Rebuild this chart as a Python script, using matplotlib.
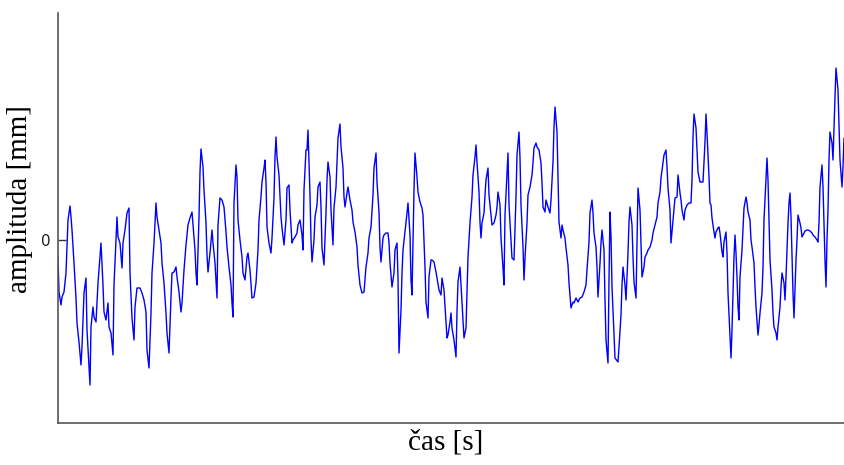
import matplotlib
matplotlib.use("Agg")
import matplotlib.pyplot as plt

# time [s] and amplitude [mm]
t = [
    0.00, 0.01, 0.03, 0.04, 0.06, 0.08, 0.09, 0.10, 0.12, 0.13,
    0.14, 0.16, 0.18, 0.19, 0.21, 0.23, 0.24, 0.26, 0.28, 0.29,
    0.31, 0.32, 0.33, 0.35, 0.36, 0.38, 0.40, 0.42, 0.43, 0.45,
    0.46, 0.48, 0.50, 0.51, 0.53, 0.55, 0.56, 0.58, 0.59, 0.60,
    0.62, 0.64, 0.65, 0.67, 0.69, 0.71, 0.72, 0.74, 0.76, 0.77,
    0.79, 0.82, 0.84, 0.86, 0.88, 0.89, 0.91, 0.93, 0.94, 0.96,
    0.98, 0.99, 1.01, 1.03, 1.04, 1.06, 1.08, 1.09, 1.11, 1.13,
    1.14, 1.16, 1.18, 1.19, 1.21, 1.23, 1.24, 1.26, 1.28, 1.30,
    1.32, 1.34, 1.35, 1.37, 1.38, 1.39, 1.41, 1.42, 1.43, 1.45,
    1.46, 1.48, 1.49, 1.50, 1.52, 1.54, 1.55, 1.57, 1.59, 1.60,
    1.62, 1.64, 1.66, 1.68, 1.69, 1.71, 1.73, 1.74, 1.75, 1.76,
    1.78, 1.79, 1.80, 1.82, 1.84, 1.85, 1.87, 1.89, 1.90, 1.92,
    1.94, 1.96, 1.98, 2.00, 2.01, 2.03, 2.04, 2.06, 2.07, 2.08,
    2.09, 2.11, 2.13, 2.14, 2.16, 2.17, 2.18, 2.19, 2.21, 2.23,
    2.24, 2.26, 2.28, 2.29, 2.31, 2.32, 2.34, 2.35, 2.37, 2.39,
    2.40, 2.42, 2.44, 2.45, 2.46, 2.48, 2.49, 2.50, 2.52, 2.53,
    2.54, 2.56, 2.57, 2.59, 2.60, 2.62, 2.63, 2.64, 2.66, 2.68,
    2.69, 2.70, 2.72, 2.73, 2.75, 2.76, 2.78, 2.79, 2.80, 2.82,
    2.83, 2.85, 2.86, 2.87, 2.89, 2.90, 2.92, 2.94, 2.95, 2.97,
    2.99, 3.00, 3.02, 3.04, 3.06, 3.08, 3.10, 3.11, 3.13, 3.15,
    3.16, 3.18, 3.19, 3.21, 3.22, 3.23, 3.25, 3.26, 3.28, 3.30,
    3.31, 3.32, 3.34, 3.36, 3.37, 3.39, 3.40, 3.41, 3.43, 3.44,
    3.45, 3.47, 3.49, 3.50, 3.52, 3.53, 3.54, 3.56, 3.57, 3.59,
    3.60, 3.62, 3.64, 3.65, 3.67, 3.68, 3.70, 3.71, 3.73, 3.74,
    3.76, 3.78, 3.79, 3.81, 3.83, 3.84, 3.86, 3.88, 3.89, 3.90,
    3.92, 3.93, 3.94, 3.96, 3.98, 3.99, 4.00, 4.02, 4.04, 4.05,
    4.06, 4.08, 4.09, 4.10, 4.12, 4.14, 4.15, 4.17, 4.18, 4.19,
    4.21, 4.22, 4.23, 4.24, 4.26, 4.27, 4.28, 4.30, 4.31, 4.33,
    4.34, 4.36, 4.38, 4.39, 4.40, 4.42, 4.43, 4.45, 4.46, 4.47,
    4.49, 4.50, 4.51, 4.53, 4.54, 4.56, 4.58, 4.59, 4.61, 4.62,
    4.63, 4.65, 4.66, 4.67, 4.69, 4.70, 4.72, 4.74, 4.75, 4.76,
    4.78, 4.79, 4.81, 4.83, 4.84, 4.85, 4.87, 4.88, 4.90, 4.92,
    4.93, 4.95, 4.96, 4.97, 4.99, 5.00, 5.01, 5.03, 5.04, 5.05,
    5.07, 5.08, 5.10, 5.11, 5.13, 5.15, 5.16, 5.18, 5.20, 5.22,
    5.24, 5.26, 5.28, 5.29, 5.31, 5.32, 5.34, 5.35, 5.36, 5.38,
    5.39, 5.40, 5.42, 5.43, 5.44, 5.46, 5.47, 5.48, 5.50, 5.51,
    5.52, 5.53, 5.54, 5.56, 5.57, 5.60, 5.61, 5.63, 5.64, 5.65,
    5.67, 5.68, 5.70, 5.71, 5.72, 5.74, 5.75, 5.76, 5.78, 5.79,
    5.80, 5.82, 5.83, 5.84, 5.86, 5.87, 5.89, 5.90, 5.92, 5.94,
    5.95, 5.97, 5.99, 6.00, 6.02, 6.03, 6.05, 6.06, 6.08, 6.09,
    6.10, 6.12, 6.13, 6.14, 6.16, 6.17, 6.19, 6.20, 6.22, 6.23,
    6.24, 6.26, 6.27, 6.29, 6.31, 6.33, 6.34, 6.35, 6.36, 6.38,
    6.39, 6.40, 6.42, 6.44, 6.45, 6.47, 6.48, 6.49, 6.51, 6.52,
    6.53, 6.54, 6.56, 6.57, 6.58, 6.60, 6.61, 6.62, 6.64, 6.65,
    6.66, 6.68, 6.69, 6.70, 6.72, 6.73, 6.74, 6.75, 6.76, 6.77,
    6.78, 6.79, 6.80, 6.81, 6.82, 6.84, 6.85, 6.86, 6.88, 6.89,
    6.90, 6.92, 6.93, 6.94, 6.96, 6.97, 6.98, 7.00, 7.01, 7.02,
    7.04, 7.05, 7.06, 7.08, 7.09, 7.10, 7.11, 7.12, 7.14, 7.15,
    7.16, 7.18, 7.19, 7.20, 7.22, 7.23, 7.24, 7.26, 7.27, 7.28,
    7.30, 7.31, 7.32, 7.33, 7.34, 7.35, 7.36, 7.38, 7.39, 7.40,
    7.42, 7.43, 7.44, 7.46, 7.47, 7.49, 7.50, 7.52, 7.54, 7.55,
    7.57, 7.59, 7.60, 7.61, 7.62, 7.64, 7.65, 7.66, 7.67, 7.68,
    7.69, 7.70, 7.71, 7.72, 7.74, 7.75, 7.76, 7.77, 7.78, 7.80,
    7.81, 7.82, 7.84, 7.85, 7.86, 7.87,
]

amplitude = [
    -0.17, -0.52, -0.65, -0.57, -0.52, -0.33, -0.05, 0.20, 0.34, 0.23,
    0.10, -0.23, -0.58, -0.83, -1.02, -1.25, -1.07, -0.53, -0.38, -0.90,
    -1.27, -1.45, -0.87, -0.67, -0.77, -0.82, -0.43, -0.17, -0.03, -0.45,
    -0.72, -0.80, -0.63, -0.87, -0.93, -1.15, -0.45, 0.00, 0.23, 0.03,
    -0.03, -0.28, -0.03, 0.10, 0.27, 0.32, -0.33, -0.78, -1.00, -0.67,
    -0.48, -0.48, -0.53, -0.60, -0.72, -1.10, -1.28, -0.73, -0.33, -0.03,
    0.37, 0.23, 0.10, -0.03, -0.23, -0.43, -0.73, -0.93, -1.13, -0.57,
    -0.33, -0.32, -0.27, -0.37, -0.52, -0.72, -0.63, -0.30, -0.05, 0.15,
    0.22, 0.28, 0.15, -0.10, -0.33, -0.45, 0.23, 0.68, 0.91, 0.73,
    0.50, 0.17, -0.15, -0.32, -0.13, 0.10, -0.03, -0.23, -0.58, 0.15,
    0.42, 0.40, 0.33, 0.08, -0.07, -0.27, -0.45, -0.63, -0.77, 0.37,
    0.75, 0.63, 0.20, 0.00, -0.17, -0.33, -0.40, -0.17, -0.13, -0.30,
    -0.58, -0.57, -0.43, -0.10, 0.20, 0.43, 0.58, 0.72, 0.80, 0.58,
    0.13, -0.03, -0.13, 0.02, 0.42, 0.83, 1.03, 0.83, 0.65, 0.23,
    0.12, -0.05, 0.20, 0.52, 0.55, 0.30, -0.03, 0.00, 0.03, 0.07,
    0.15, 0.20, 0.05, -0.10, 0.50, 0.90, 0.90, 1.10, 0.45, 0.00,
    -0.22, 0.00, 0.23, 0.35, 0.53, 0.58, 0.33, -0.08, -0.25, 0.27,
    0.60, 0.78, 0.63, 0.30, -0.05, 0.32, 0.53, 0.78, 1.02, 1.16,
    0.93, 0.72, 0.43, 0.33, 0.47, 0.53, 0.40, 0.30, 0.18, 0.08,
    -0.07, -0.25, -0.45, -0.53, -0.52, -0.27, -0.13, 0.02, 0.13, 0.45,
    0.72, 0.87, 0.58, 0.28, -0.07, -0.22, 0.02, 0.05, 0.07, 0.07,
    -0.03, -0.23, -0.47, -0.33, -0.10, -0.03, -0.38, -1.13, -0.70, -0.33,
    -0.10, 0.08, 0.27, 0.37, 0.05, -0.40, -0.55, 0.50, 0.87, 0.63,
    0.48, 0.38, 0.32, 0.25, -0.27, -0.62, -0.78, -0.37, -0.20, -0.20,
    -0.22, -0.32, -0.38, -0.50, -0.55, -0.38, -0.50, -0.82, -0.98, -0.95,
    -0.82, -0.73, -0.88, -1.00, -1.17, -0.72, -0.42, -0.27, -0.63, -0.82,
    -0.98, -0.88, -0.52, -0.17, 0.17, 0.43, 0.65, 0.83, 0.95, 0.78,
    0.48, 0.18, 0.02, 0.17, 0.27, 0.45, 0.60, 0.72, 0.45, 0.25,
    0.15, 0.17, 0.25, 0.33, 0.48, 0.35, 0.02, -0.28, -0.45, 0.25,
    0.65, 0.87, 0.35, 0.00, -0.18, -0.20, 0.43, 0.85, 1.08, 0.82,
    0.35, -0.07, -0.40, -0.18, 0.17, 0.45, 0.53, 0.65, 0.77, 0.92,
    0.97, 0.93, 0.90, 0.77, 0.57, 0.33, 0.28, 0.40, 0.33, 0.27,
    0.40, 0.78, 1.13, 1.33, 1.08, 0.65, 0.18, 0.02, 0.15, 0.10,
    0.02, -0.08, -0.25, -0.43, -0.68, -0.62, -0.63, -0.58, -0.62, -0.58,
    -0.57, -0.52, -0.45, -0.30, -0.02, 0.27, 0.40, 0.27, 0.07, -0.07,
    -0.27, -0.57, -0.23, -0.03, 0.10, -0.10, -0.60, -1.00, -1.23, -0.40,
    0.28, 0.03, -0.47, -0.93, -1.18, -1.22, -1.07, -0.75, -0.45, -0.27,
    -0.45, -0.60, -0.13, 0.18, 0.33, 0.15, -0.17, -0.42, -0.58, 0.00,
    0.52, 0.30, -0.03, -0.37, -0.27, -0.17, -0.13, -0.10, -0.07, 0.00,
    0.07, 0.15, 0.23, 0.37, 0.48, 0.62, 0.77, 0.85, 0.90, 0.73,
    0.52, 0.30, -0.03, 0.08, 0.30, 0.42, 0.43, 0.65, 0.47, 0.40,
    0.30, 0.20, 0.30, 0.35, 0.37, 0.37, 0.60, 1.03, 1.26, 1.12,
    0.90, 0.68, 0.58, 0.58, 0.58, 0.98, 1.26, 1.07, 0.63, 0.37,
    0.35, 0.22, 0.08, 0.02, 0.08, 0.12, 0.13, 0.07, -0.12, -0.17,
    -0.02, 0.08, -0.13, -0.53, -0.97, -1.18, -0.90, -0.53, -0.17, 0.05,
    -0.13, -0.37, -0.67, -0.80, -0.37, -0.10, 0.12, 0.32, 0.43, 0.37,
    0.28, 0.20, 0.00, -0.07, -0.23, -0.47, -0.67, -0.95, -0.85, -0.73,
    -0.53, -0.27, 0.20, 0.60, 0.82, 0.60, 0.20, -0.20, -0.50, -0.73,
    -0.87, -0.93, -1.00, -0.87, -0.67, -0.47, -0.33, -0.43, -0.60, -0.37,
    0.17, 0.37, 0.47, 0.23, -0.17, -0.53, -0.78, -0.20, 0.00, 0.25,
    0.17, 0.12, 0.03, 0.07, 0.09, 0.10, 0.10, 0.09, 0.07, 0.05,
    0.03, 0.00, -0.02, 0.17, 0.53, 0.75, 0.53, 0.17, -0.20, -0.47,
    0.00, 0.30, 0.80, 1.08, 0.97, 0.80, 1.13, 1.43, 1.72, 1.50,
    1.13, 0.80, 0.53, 0.73, 1.02, 0.90,
]

y_ticks = [0.0]
y_ticklabels = ["0"]

assert len(t) == len(amplitude)

fig = plt.figure(figsize=(8.45, 4.65), dpi=100)
ax = fig.add_axes([58 / 845, 1 - 423 / 465, 787 / 845, 410 / 465])

ax.plot(t, amplitude, color="#0000ff", lw=1.0)

ax.set_xlim(t[0], t[-1])
ax.set_ylim(-1.83, 2.27)

for side in ("top", "right"):
    ax.spines[side].set_visible(False)
for side in ("left", "bottom"):
    ax.spines[side].set_color("#555555")
    ax.spines[side].set_linewidth(1.2)

ax.set_xticks([])
ax.set_yticks(y_ticks)
ax.set_yticklabels(y_ticklabels, fontsize=11, color="#222222")
ax.tick_params(axis="y", direction="in", length=6, width=1.0, color="#333333", pad=5)

serif = {"family": "Liberation Serif", "size": 21}
ax.set_xlabel("čas [s]", fontdict=serif)
ax.set_ylabel("amplituda [mm]", fontdict=serif)
ax.xaxis.set_label_coords(0.492, -0.015)
ax.yaxis.set_label_coords(-0.032, 0.546)

fig.savefig("out.png", dpi=100)
